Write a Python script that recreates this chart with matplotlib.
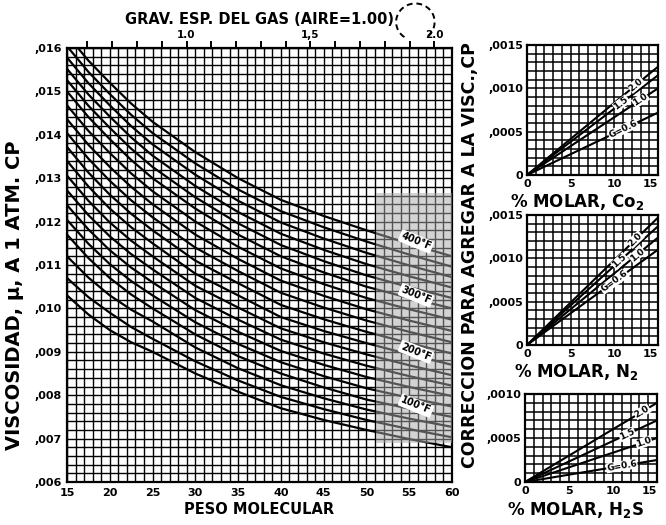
import numpy as np
import matplotlib.pyplot as plt
from matplotlib.patches import Rectangle, Arc
from matplotlib.ticker import MultipleLocator, FixedLocator

# main chart: viscosity at 1 atm (cp) vs molecular weight, one row per temperature (F)
mol_weight = [15, 17.5, 20, 22.5, 25, 30, 35, 40, 45, 50, 55, 60]
temps_f = [40, 60, 80, 100, 120, 140, 160, 180, 200, 220, 240, 260, 280,
           300, 320, 340, 360, 380, 400]
visc = [
    [0.01030, 0.00986, 0.00950, 0.00922, 0.00900, 0.00850, 0.00808, 0.00770, 0.00743, 0.00720, 0.00699, 0.00680],
    [0.01070, 0.01026, 0.00990, 0.00957, 0.00930, 0.00878, 0.00834, 0.00796, 0.00768, 0.00743, 0.00722, 0.00703],
    [0.01120, 0.01071, 0.01030, 0.00997, 0.00970, 0.00910, 0.00862, 0.00823, 0.00793, 0.00767, 0.00746, 0.00727],
    [0.01170, 0.01116, 0.01070, 0.01032, 0.01000, 0.00940, 0.00890, 0.00850, 0.00818, 0.00790, 0.00769, 0.00750],
    [0.01204, 0.01149, 0.01102, 0.01063, 0.01030, 0.00968, 0.00918, 0.00876, 0.00844, 0.00816, 0.00794, 0.00774],
    [0.01238, 0.01182, 0.01134, 0.01094, 0.01060, 0.00996, 0.00946, 0.00902, 0.00870, 0.00842, 0.00819, 0.00798],
    [0.01272, 0.01215, 0.01166, 0.01125, 0.01090, 0.01024, 0.00974, 0.00928, 0.00896, 0.00868, 0.00844, 0.00822],
    [0.01306, 0.01248, 0.01198, 0.01156, 0.01120, 0.01052, 0.01002, 0.00954, 0.00922, 0.00894, 0.00869, 0.00846],
    [0.01340, 0.01281, 0.01230, 0.01187, 0.01150, 0.01080, 0.01030, 0.00980, 0.00948, 0.00920, 0.00894, 0.00870],
    [0.01372, 0.01313, 0.01262, 0.01218, 0.01180, 0.01110, 0.01058, 0.01008, 0.00975, 0.00946, 0.00920, 0.00896],
    [0.01404, 0.01345, 0.01294, 0.01249, 0.01210, 0.01140, 0.01086, 0.01036, 0.01002, 0.00972, 0.00946, 0.00922],
    [0.01436, 0.01377, 0.01326, 0.01280, 0.01240, 0.01170, 0.01114, 0.01064, 0.01029, 0.00998, 0.00972, 0.00948],
    [0.01468, 0.01409, 0.01358, 0.01311, 0.01270, 0.01200, 0.01142, 0.01092, 0.01056, 0.01024, 0.00998, 0.00974],
    [0.01500, 0.01441, 0.01390, 0.01342, 0.01300, 0.01230, 0.01170, 0.01120, 0.01083, 0.01050, 0.01024, 0.01000],
    [0.01526, 0.01467, 0.01416, 0.01368, 0.01326, 0.01256, 0.01196, 0.01146, 0.01109, 0.01076, 0.01049, 0.01024],
    [0.01552, 0.01493, 0.01442, 0.01394, 0.01352, 0.01282, 0.01222, 0.01172, 0.01135, 0.01102, 0.01074, 0.01048],
    [0.01578, 0.01519, 0.01468, 0.01420, 0.01378, 0.01308, 0.01248, 0.01198, 0.01161, 0.01128, 0.01099, 0.01072],
    [0.01604, 0.01545, 0.01494, 0.01446, 0.01404, 0.01334, 0.01274, 0.01224, 0.01187, 0.01154, 0.01124, 0.01096],
    [0.01630, 0.01571, 0.01520, 0.01472, 0.01430, 0.01360, 0.01300, 0.01250, 0.01213, 0.01180, 0.01149, 0.01120],
]
label_temps = [100, 200, 300, 400]
label_mw = 55.8

# correction charts: line from 0 % to 15 %, one value per gas gravity
gravities = [0.6, 1.0, 1.5, 2.0]
pct = [0, 15]
co2_at15 = [0.00072, 0.00100, 0.00115, 0.00125]
n2_at15 = [0.00110, 0.00124, 0.00137, 0.00147]
h2s_at15 = [0.00025, 0.00050, 0.00070, 0.00090]

plt.rcParams['font.family'] = 'DejaVu Sans'
plt.rcParams['font.weight'] = 'bold'

fig = plt.figure(figsize=(6.66, 5.25), dpi=100)
ax = fig.add_axes([0.1006, 0.0819, 0.578, 0.8267])

ax.set_xlim(15, 60)
ax.set_ylim(0.006, 0.016)
ax.xaxis.set_minor_locator(MultipleLocator(1))
ax.yaxis.set_minor_locator(MultipleLocator(0.0002))
ax.grid(which='both', color='black', linewidth=1.0)
ax.set_axisbelow(True)
ax.tick_params(which='both', length=0, labelsize=8, pad=4)
ax.set_xticks(range(15, 61, 5))
ax.set_xticklabels([str(v) for v in range(15, 61, 5)], fontweight='bold')
yt = np.arange(0.006, 0.0161, 0.001)
ax.set_yticks(yt)
ax.set_yticklabels([',%03d' % round(v * 1000) for v in yt], fontweight='bold')
for s in ax.spines.values():
    s.set_linewidth(1.6)

for t, row in zip(temps_f, visc):
    ax.plot(mol_weight, row, color='black', linewidth=1.6, zorder=3)

# greyed block on the right side
ax.add_patch(Rectangle((51.1, 0.0069), 8.9, 0.00576, facecolor='#a8a8a8',
                       edgecolor='none', alpha=0.5, zorder=4))

for t in label_temps:
    row = visc[temps_f.index(t)]
    yv = np.interp(label_mw, mol_weight, row)
    ax.text(label_mw, yv + 0.0001, '%d°F' % t, fontsize=7, fontweight='bold',
            rotation=-22, ha='center', va='center', zorder=6,
            bbox=dict(boxstyle='round,pad=0.15', facecolor='white', edgecolor='none'))

ax.set_xlabel('PESO MOLECULAR', fontsize=10.5, fontweight='bold', labelpad=3)
ax.set_ylabel('VISCOSIDAD, µ, A 1 ATM. CP', fontsize=14, fontweight='bold')
ax.yaxis.set_label_coords(-0.112, 0.43)

# gas gravity scale on top
top = ax.secondary_xaxis('top', functions=(lambda m: m / 28.97, lambda g: g * 28.97))
sg_ticks = [round(0.6 + 0.1 * i, 1) for i in range(15)]
top.xaxis.set_major_locator(FixedLocator(sg_ticks))
top.set_xticklabels(['1.0' if g == 1.0 else '1,5' if g == 1.5 else '2.0' if g == 2.0 else ''
                     for g in sg_ticks], fontsize=7.5, fontweight='bold')
top.tick_params(direction='out', length=5, width=1.4, pad=1)
top.spines['top'].set_visible(False)
top.set_xlabel('GRAV. ESP. DEL GAS (AIRE=1.00)', fontsize=10.5, fontweight='bold', labelpad=4)

# little dashed loop drawn near the 2.0 mark
ax.add_patch(Arc((0.905, 1.06), 0.1, 0.085, transform=ax.transAxes, theta1=-45, theta2=240,
                 linestyle=(0, (3, 2)), linewidth=1.4, color='black', clip_on=False))


def correction_panel(rect, values, ymax, yticks, ylabels, xlabel, label_xs):
    a = fig.add_axes(rect)
    a.set_xlim(0, 15)
    a.set_ylim(0, ymax)
    a.xaxis.set_minor_locator(MultipleLocator(1))
    a.yaxis.set_minor_locator(MultipleLocator(0.0001))
    a.grid(which='both', color='black', linewidth=1.1)
    a.set_axisbelow(True)
    a.tick_params(which='both', length=0, labelsize=8, pad=3)
    a.set_xticks([0, 5, 10, 15])
    a.set_xticklabels(['0', '5', '10', '15'], fontweight='bold')
    a.get_xticklabels()[-1].set_horizontalalignment('right')
    a.set_yticks(yticks)
    a.set_yticklabels(ylabels, fontweight='bold')
    for s in a.spines.values():
        s.set_linewidth(1.6)
    for g, v, lx in zip(gravities, values, label_xs):
        a.plot(pct, [0, v], color='black', linewidth=1.5, zorder=3)
        ang = np.degrees(np.arctan2(v / ymax * rect[3] * 525, rect[2] * 666))
        txt = 'G=0.6' if g == 0.6 else '%.1f' % g
        a.text(lx, v * lx / 15, txt, fontsize=6.5, fontweight='bold', rotation=ang,
               ha='center', va='center', zorder=5,
               bbox=dict(boxstyle='square,pad=0.05', facecolor='white', edgecolor='none'))
    a.set_xlabel(xlabel, fontsize=12, fontweight='bold', labelpad=1)
    a.xaxis.set_label_coords(0.38, -0.13 if ymax > 0.001 else -0.2)
    return a


correction_panel([0.7913, 0.6667, 0.1967, 0.2476], co2_at15, 0.0015,
                 [0, 0.0005, 0.0010, 0.0015], ['0', ',0005', ',0010', ',0015'],
                 '% MOLAR, Co$_2$', [11.0, 13.0, 10.8, 12.5])
correction_panel([0.7913, 0.3429, 0.1967, 0.2476], n2_at15, 0.0015,
                 [0, 0.0005, 0.0010, 0.0015], ['0', ',0005', ',0010', ',0015'],
                 '% MOLAR, N$_2$', [10.0, 12.6, 10.6, 12.4])
correction_panel([0.7883, 0.0819, 0.1982, 0.1676], h2s_at15, 0.0010,
                 [0, 0.0005, 0.0010], ['0', ',0005', ',0010'],
                 '% MOLAR, H$_2$S', [11.0, 13.5, 11.6, 13.3])

fig.text(0.706, 0.515, 'CORRECCION PARA AGREGAR A LA VISC.,CP', rotation=90,
         fontsize=12.5, fontweight='bold', ha='center', va='center')

fig.savefig('out.png', dpi=100)
